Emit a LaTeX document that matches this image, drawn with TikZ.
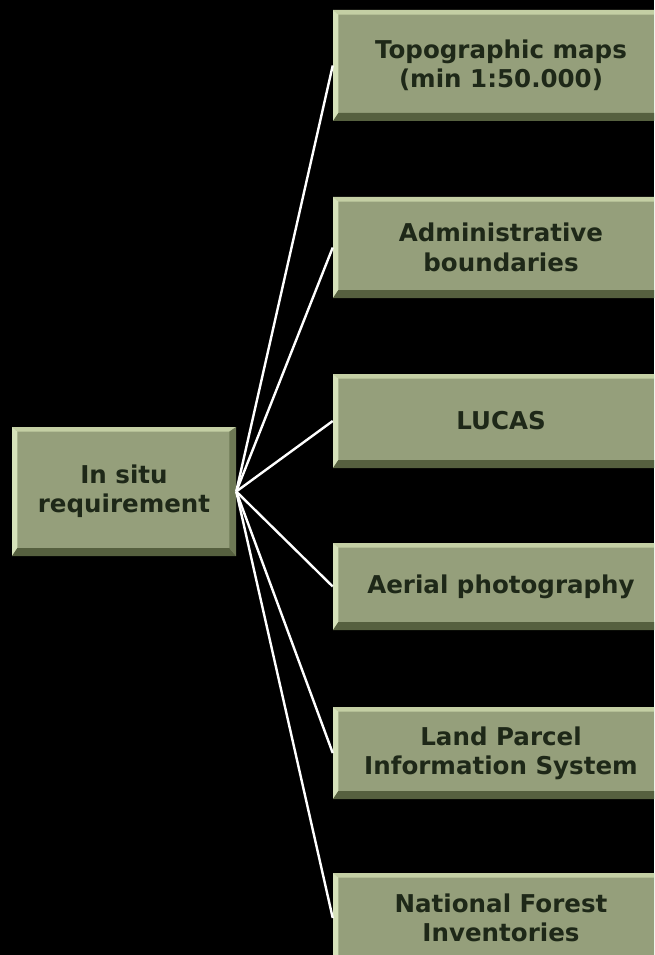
\documentclass[tikz,border=0pt]{standalone}
\usepackage{fontspec}
\setmainfont{DejaVu Sans}
\definecolor{boxfill}{HTML}{959F7B}
\definecolor{bevtop}{HTML}{C4CFA4}
\definecolor{bevleft}{HTML}{D6E2BA}
\definecolor{bevbot}{HTML}{56603F}
\definecolor{bevright}{HTML}{6E7955}
\definecolor{txt}{HTML}{1E2818}
\tikzset{
  bev/.style={fill=boxfill, text=txt, align=center, inner sep=0pt,
    font=\bfseries\fontsize{18.4}{22}\selectfont,
    path picture={
      \fill[bevtop] (path picture bounding box.north west) -- (path picture bounding box.north east)
        -- ([xshift=-5pt,yshift=-3.5pt]path picture bounding box.north east)
        -- ([xshift=4pt,yshift=-3.5pt]path picture bounding box.north west) -- cycle;
      \fill[bevleft] (path picture bounding box.north west) -- ([xshift=4pt,yshift=-3.5pt]path picture bounding box.north west)
        -- ([xshift=4pt,yshift=6pt]path picture bounding box.south west)
        -- (path picture bounding box.south west) -- cycle;
      \fill[bevbot] (path picture bounding box.south west) -- ([xshift=4pt,yshift=6pt]path picture bounding box.south west)
        -- ([xshift=-5pt,yshift=6pt]path picture bounding box.south east)
        -- (path picture bounding box.south east) -- cycle;
      \fill[bevright] (path picture bounding box.north east) -- ([xshift=-5pt,yshift=-3.5pt]path picture bounding box.north east)
        -- ([xshift=-5pt,yshift=6pt]path picture bounding box.south east)
        -- (path picture bounding box.south east) -- cycle;
    }},
  conn/.style={draw=white, line width=1.8pt}
}
\newcommand\bbox[6]{\node[bev, minimum width={(#4-#2)*0.75pt}, minimum height={(#5-#3)*0.75pt}] (#1) at ({(#2+#4)/2},{(#3+#5)/2}) {#6};}
\begin{document}
\begin{tikzpicture}[x=0.75pt,y=-0.75pt]
\useasboundingbox (0,0) rectangle (654,955);
\fill[black] (0,0) rectangle (654,955);
\clip (0,0) rectangle (654,955);
\bbox{root}{12}{427}{236}{556}{In situ\\requirement}
\bbox{b1}{333}{10}{669}{121}{Topographic maps\\(min 1:50.000)}
\bbox{b2}{333}{197}{669}{298}{Administrative\\boundaries}
\bbox{b3}{333}{374}{669}{468}{LUCAS}
\bbox{b4}{333}{543}{669}{630}{Aerial photography}
\bbox{b5}{333}{707}{669}{799}{Land Parcel\\Information System}
\bbox{b6}{333}{873}{669}{963}{National Forest\\Inventories}
\foreach \b in {b1,b2,b3,b4,b5,b6}{
  \draw[conn] (root.east) -- (\b.west);
}
\end{tikzpicture}
\end{document}
